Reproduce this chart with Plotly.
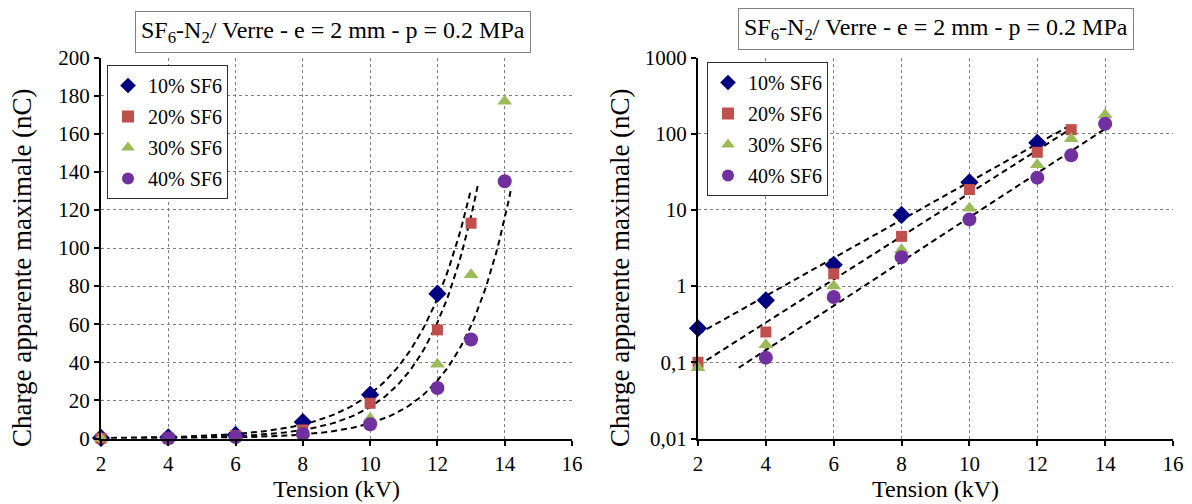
import numpy as np
import plotly.graph_objects as go

# ---- data ----
x10 = [2, 4, 6, 8, 10, 12]
y10 = [0.28, 0.65, 1.9, 8.6, 23, 76]
x20 = [2, 4, 6, 8, 10, 12, 13]
y20 = [0.1, 0.25, 1.45, 4.5, 18.5, 57, 113]
x30 = [2, 4, 6, 8, 10, 12, 13, 14]
y30 = [0.085, 0.17, 1.0, 3.0, 10.5, 39, 86, 177]
x40 = [4, 6, 8, 10, 12, 13, 14]
y40 = [0.115, 0.72, 2.4, 7.5, 26.5, 52, 135]

names = ["10% SF6", "20% SF6", "30% SF6", "40% SF6"]
xticks = [2, 4, 6, 8, 10, 12, 14, 16]
lin_ticks = [0, 20, 40, 60, 80, 100, 120, 140, 160, 180, 200]
log_ticks = [0.01, 0.1, 1, 10, 100, 1000]
log_ticktext = ["0,01", "0,1", "1", "10", "100", "1000"]
title_text = "SF<sub>6</sub>-N<sub>2</sub>/ Verre - e = 2 mm - p = 0.2 MPa"
ytitle_text = "Charge apparente maximale (nC)"
xtitle_text = "Tension (kV)"

# exponential trendlines (Excel-style) for 10%, 20% and 40% series
trend_sets = [(x10, y10, 2.0, 13.0), (x20, y20, 2.0, 13.2), (x40, y40, 3.2, 14.2)]

colors = ["#000080", "#C0504D", "#9BBB59", "#7030A0"]
symbols = ["diamond", "square", "triangle-up", "circle"]
sizes = [14, 11, 13, 14]
FONT = "Liberation Serif"

# page has an 8px body margin: figure is drawn at (8,8)
OFF = 8
W, H = 1192 - OFF, 504 - OFF


def px(x):
    return (x - OFF) / W


def py(y):
    return 1 - (y - OFF) / H


series = [(x10, y10), (x20, y20), (x30, y30), (x40, y40)]

fig = go.Figure()

for panel in (1, 2):
    xa = "x" if panel == 1 else "x2"
    ya = "y" if panel == 1 else "y2"
    leg = "legend" if panel == 1 else "legend2"
    for xs, ys, a, b in trend_sets:
        k, c = np.polyfit(np.array(xs, float), np.log(np.array(ys, float)), 1)
        xx = np.linspace(a, b, 120)
        fig.add_trace(go.Scatter(x=xx, y=np.exp(c + k * xx), mode="lines",
                                 line=dict(color="black", width=2, dash="6px,4px"),
                                 xaxis=xa, yaxis=ya, showlegend=False, hoverinfo="skip"))
    for i, (xs, ys) in enumerate(series):
        fig.add_trace(go.Scatter(x=xs, y=ys, mode="markers", name=names[i],
                                 marker=dict(symbol=symbols[i], size=sizes[i], color=colors[i]),
                                 xaxis=xa, yaxis=ya, legend=leg, legendgroup=f"{panel}{i}",
                                 cliponaxis=False))

axis_common = dict(showline=True, linewidth=2, linecolor="black", ticks="outside",
                   ticklen=5, tickwidth=1.5, tickcolor="black", showgrid=True,
                   gridcolor="#808080", griddash="dot", gridwidth=1, zeroline=False,
                   automargin=False,
                   tickfont=dict(family=FONT, size=21, color="black"))

xtitle = dict(text=xtitle_text, font=dict(family=FONT, size=24), standoff=3)

ydom = [py(438.5), py(57.5)]
fig.update_layout(
    width=W, height=H, margin=dict(l=0, r=0, t=0, b=0, autoexpand=False),
    paper_bgcolor="white", plot_bgcolor="white",
    font=dict(family=FONT, color="black"),
    xaxis=dict(domain=[px(101), px(572)], range=[2, 16], tickvals=xticks,
               title=xtitle, anchor="y", **axis_common),
    yaxis=dict(domain=ydom, range=[0, 200], tickvals=lin_ticks, anchor="x", **axis_common),
    xaxis2=dict(domain=[px(698), px(1173)], range=[2, 16], tickvals=xticks,
                title=xtitle, anchor="y2", **axis_common),
    yaxis2=dict(domain=ydom, type="log", range=[-2, 3], tickvals=log_ticks, ticktext=log_ticktext,
                anchor="x2", **axis_common),
    legend=dict(x=px(107), y=py(65), xanchor="left", yanchor="top",
                bgcolor="white", bordercolor="#303030", borderwidth=1,
                font=dict(family=FONT, size=20), tracegroupgap=2, itemsizing="constant"),
    legend2=dict(x=px(707), y=py(62), xanchor="left", yanchor="top",
                 bgcolor="white", bordercolor="#303030", borderwidth=1,
                 font=dict(family=FONT, size=20), tracegroupgap=2, itemsizing="constant"),
    showlegend=True,
)

# y-axis titles
for cx in (22, 620):
    fig.add_annotation(text=ytitle_text, x=px(cx), y=py(268), xref="paper", yref="paper",
                       xanchor="center", yanchor="middle", textangle=-90, showarrow=False,
                       font=dict(family=FONT, size=27, color="black"))

# chart titles
for cx, cy in ((333, 32), (936, 29)):
    fig.add_annotation(text=title_text, x=px(cx), y=py(cy), xref="paper", yref="paper",
                       xanchor="center", yanchor="middle",
                       showarrow=False, font=dict(family=FONT, size=24, color="black"),
                       bordercolor="#808080", borderwidth=1, borderpad=5, bgcolor="white")

fig.write_html("out.html")
